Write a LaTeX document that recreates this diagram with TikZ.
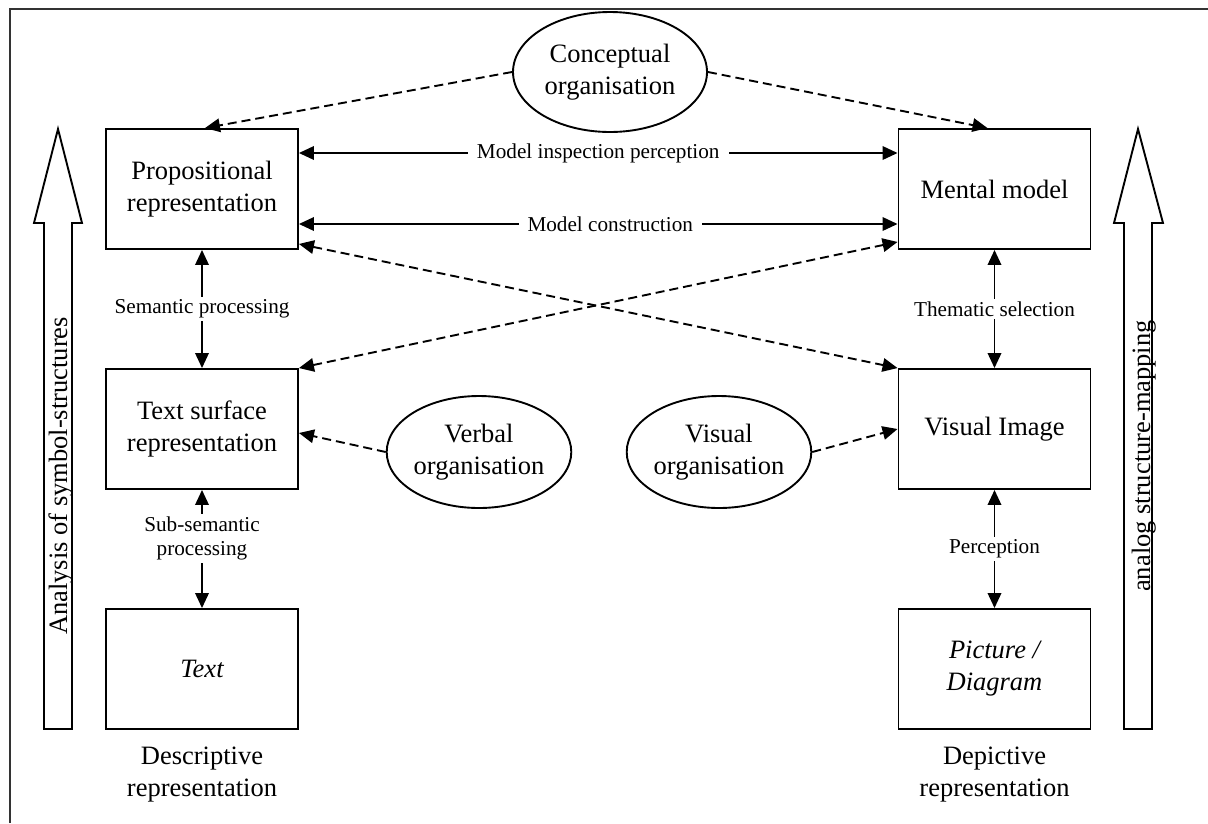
\documentclass[tikz,border=0pt]{standalone}
\usepackage{fontspec}
\setmainfont{Liberation Serif}
\usetikzlibrary{arrows.meta,shapes.geometric}
\newcommand{\bigtxt}{\fontsize{26.5}{32}\selectfont}
\newcommand{\lbltxt}{\fontsize{21.2}{23.5}\selectfont}

\begin{document}
\begin{tikzpicture}[x=1pt,y=-1pt,
  stroke/.style={line width=1.9pt},
  box/.style={stroke,draw,rectangle,minimum width=192pt,minimum height=120pt,
    inner sep=0pt,align=center,font=\bigtxt},
  org/.style={stroke,draw,ellipse,inner sep=0pt,align=center,font=\bigtxt},
  tip/.tip={Triangle[length=15pt,width=13.5pt]},
  both/.style={stroke,tip-tip},
  dashboth/.style={stroke,dash pattern=on 9pt off 5pt,tip-tip},
  dashto/.style={stroke,dash pattern=on 9pt off 5pt,-tip},
  lbl/.style={fill=white,font=\lbltxt,inner xsep=9pt,inner ysep=3pt,align=center},
  caption/.style={align=center,font=\bigtxt},
  hollow/.style={stroke,draw,fill=white,line join=miter}
]
\useasboundingbox (0,0) rectangle (1208,823);

% page frame (only the top and left edges fall inside)
\draw[line width=1.4pt,black!80] (10,823) -- (10,9) -- (1208,9);

% wide hollow arrows at the sides
\draw[hollow] (44,729) -- (44,223) -- (34,223) -- (58,129) -- (82,223)
  -- (72,223) -- (72,729) -- cycle;
\draw[hollow] (1124,729) -- (1124,223) -- (1114,223) -- (1138,129) -- (1163,223)
  -- (1152,223) -- (1152,729) -- cycle;
\node[rotate=90,anchor=base,font=\bigtxt,inner sep=0pt] (leftside) at (67,476)
  {Analysis of symbol-structures};
\node[rotate=90,anchor=base,font=\bigtxt,inner sep=0pt] (rightside) at (1150,456)
  {analog structure-mapping};

% representations
\node[box] (prop)    at (202,189)   {Propositional\\representation};
\node[box] (mental)  at (994.5,189) {Mental model};
\node[box] (surface) at (202,429)   {Text surface\\representation};
\node[box] (image)   at (994.5,429) {Visual Image};
\node[box] (text)    at (202,669)   {\itshape Text};
\node[box] (picture) at (994.5,669) {\itshape Picture /\\\itshape Diagram};

% organisation processes
\node[org,minimum width=194pt,minimum height=120pt] (concept) at (610,72)
  {Conceptual\\organisation};
\node[org,minimum width=169pt,minimum height=112pt] (verbal) at (479,452)
  {Verbal\\organisation};
\node[org,minimum width=169pt,minimum height=112pt] (visual) at (719,452)
  {Visual\\organisation};

% captions
\node[caption] (descr) at (202,775)   {Descriptive\\representation};
\node[caption] (depic) at (994.5,775) {Depictive\\representation};

% horizontal links
\draw[both] ([yshift=36pt]prop.east) --
  node[lbl,pos=0.5] {Model inspection perception} ([yshift=36pt]mental.west);
\draw[both] ([yshift=-35pt]prop.east) --
  node[lbl,pos=0.52] {Model construction} ([yshift=-35pt]mental.west);

% crossing dashed links
\draw[dashboth] ([yshift=6pt]prop.south east) -- (image.north west);
\draw[dashboth] (surface.north east) -- ([yshift=8pt]mental.south west);

% vertical links
\draw[both] (prop.south) -- node[lbl,inner xsep=3pt] {Semantic processing} (surface.north);
\draw[both] (surface.south) -- node[lbl,inner xsep=3pt,pos=0.41] {Sub-semantic\\processing} (text.north);
\draw[both] (mental.south) -- node[lbl,inner xsep=3pt] {Thematic selection} (image.north);
\draw[both] (image.south) -- node[lbl,inner xsep=3pt] {Perception} (picture.north);

% organisation influences
\draw[dashto] (concept.west) -- ([xshift=3pt]prop.north);
\draw[dashto] (concept.east) -- ([xshift=-7pt]mental.north);
\draw[dashto] (verbal.west) -- ([yshift=-4pt]surface.east);
\draw[dashto] (visual.east) -- (image.west);
\end{tikzpicture}
\end{document}
